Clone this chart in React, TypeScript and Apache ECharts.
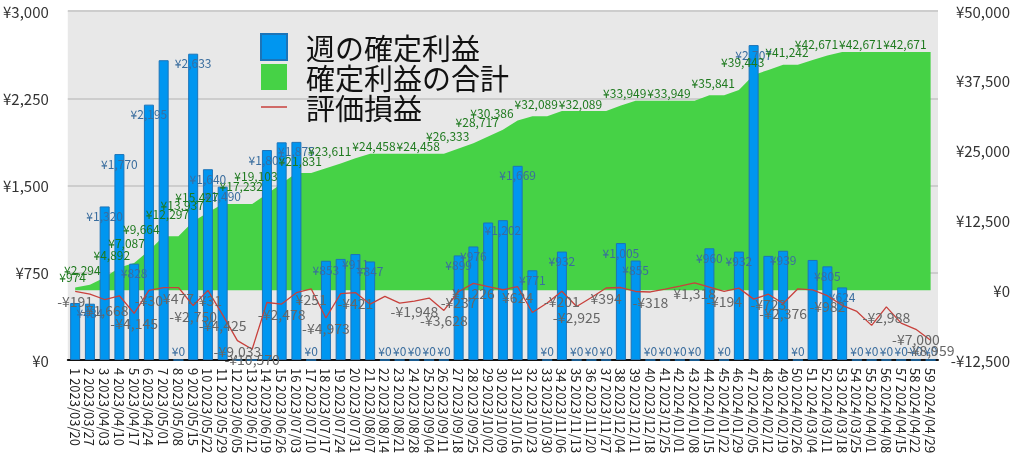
import React, { useEffect, useRef } from "react";
import * as echarts from "echarts";

const weekLabels = [
  "1 2023/03/20", "2 2023/03/27", "3 2023/04/03", "4 2023/04/10", "5 2023/04/17",
  "6 2023/04/24", "7 2023/05/01", "8 2023/05/08", "9 2023/05/15", "10 2023/05/22",
  "11 2023/05/29", "12 2023/06/05", "13 2023/06/12", "14 2023/06/19", "15 2023/06/26",
  "16 2023/07/03", "17 2023/07/10", "18 2023/07/17", "19 2023/07/24", "20 2023/07/31",
  "21 2023/08/07", "22 2023/08/14", "23 2023/08/21", "24 2023/08/28", "25 2023/09/04",
  "26 2023/09/11", "27 2023/09/18", "28 2023/09/25", "29 2023/10/02", "30 2023/10/09",
  "31 2023/10/16", "32 2023/10/23", "33 2023/10/30", "34 2023/11/06", "35 2023/11/13",
  "36 2023/11/20", "37 2023/11/27", "38 2023/12/04", "39 2023/12/11", "40 2023/12/18",
  "41 2023/12/25", "42 2024/01/01", "43 2024/01/08", "44 2024/01/15", "45 2024/01/22",
  "46 2024/01/29", "47 2024/02/05", "48 2024/02/12", "49 2024/02/19", "50 2024/02/26",
  "51 2024/03/04", "52 2024/03/11", "53 2024/03/18", "54 2024/03/25", "55 2024/04/01",
  "56 2024/04/08", "57 2024/04/15", "58 2024/04/22", "59 2024/04/29",
];

// 週の確定利益 (left axis)
const weeklyProfit = [
  490, 484, 1320, 1770, 828, 2195, 2577, 0, 2633, 1640,
  1490, 0, 0, 1805, 1871, 1875, 0, 853, 869, 911,
  847, 0, 0, 0, 0, 0, 899, 976, 1182, 1202,
  1669, 771, 0, 932, 0, 0, 0, 1005, 855, 0,
  0, 0, 0, 960, 0, 932, 2707, 895, 939, 0,
  860, 805, 624, 0, 0, 0, 0, 0, 0,
];

// 確定利益の合計 (right axis)
const cumulativeProfit = [
  490, 974, 2294, 4064, 4892, 7087, 9664, 9664, 12297, 13937,
  15427, 15427, 15427, 17232, 19103, 20978, 20978, 21831, 22700, 23611,
  24458, 24458, 24458, 24458, 24458, 24458, 25357, 26333, 27515, 28717,
  30386, 31157, 31157, 32089, 32089, 32089, 32089, 33094, 33949, 33949,
  33949, 33949, 33949, 34909, 34909, 35841, 38548, 39443, 40382, 40382,
  41242, 42047, 42671, 42671, 42671, 42671, 42671, 42671, 42671,
];

// 評価損益 (right axis)
const unrealized = [
  -191, -700, -1668, -1000, -4145, -30, 450, 477, -2750, -31,
  -4425, -9033, -10570, -2200, -2478, -450, 251, -4973, -600, -421,
  -2500, -1100, -2300, -1948, -1400, -3628, -237, 1226, 660, 80,
  624, -4000, -2300, -201, -2925, -1300, 394, 480, -230, -318,
  200, 750, 1318, 550, -194, 370, -1600, -723, -2376, 250,
  70, -982, -2700, -3800, -6300, -2988, -5900, -7000, -8959,
];

const leftTicks = { min: 0, max: 3000, interval: 750 };
const rightTicks = { min: -12500, max: 50000, interval: 12500 };

// weeks whose value labels are visible in the reference
const barLabelHidden = [1, 7, 12, 13, 15, 19, 29, 48, 51];
const cumLabelShown = [2, 3, 5, 6, 7, 9, 10, 11, 14, 15, 18, 20, 23, 26, 28, 30, 31, 34, 37, 40, 43, 46, 48, 51, 53, 56, 59];
const lineLabelShown = [1, 3, 5, 6, 8, 9, 10, 11, 12, 13, 15, 17, 18, 20, 24, 26, 27, 28, 31, 34, 35, 37, 40, 43, 45, 48, 49, 52, 56, 58, 59];

const yen = (v: number) => (v < 0 ? "-¥" : "¥") + Math.abs(v).toLocaleString("en-US");

const FONT = "'Noto Sans CJK JP', 'Noto Sans', sans-serif";
const GREEN = "#46d246";
const BLUE = "#0096f0";
const RED = "#c8413c";

export default function App() {
  const ref = useRef<HTMLDivElement>(null);
  useEffect(() => {
    if (!ref.current) return;
    const chart = echarts.init(ref.current, undefined, { renderer: "svg" });
    const option: any = {
      animation: false,
      textStyle: { fontFamily: FONT },
      grid: {
        left: 64, right: 86, top: 11, bottom: 112,
        show: true, backgroundColor: "#e8e8e8", borderWidth: 0,
      },
      legend: {
        orient: "vertical",
        left: 255,
        top: 27,
        itemWidth: 26,
        itemHeight: 26,
        itemGap: 0,
        textStyle: { fontSize: 29, lineHeight: 30, color: "#111", fontFamily: FONT, padding: [0, 0, 0, 14] },
        data: [
          { name: "週の確定利益", icon: "rect" },
          { name: "確定利益の合計", icon: "rect" },
          { name: "評価損益", icon: "path://M0,0L26,0L26,1.5L0,1.5Z" },
        ],
      },
      xAxis: {
        type: "category",
        data: weekLabels,
        axisLine: { lineStyle: { color: "#111", width: 2 } },
        axisTick: { show: false },
        axisLabel: { interval: 0, rotate: -90, fontSize: 13, color: "#222", margin: 8, fontFamily: FONT },
      },
      yAxis: [
        {
          type: "value",
          ...leftTicks,
          axisLabel: { formatter: yen, fontSize: 15, color: "#333", margin: 19, fontFamily: FONT },
          splitLine: { lineStyle: { color: "#cdcdcd", width: 2 } },
          axisLine: { show: false },
          axisTick: { show: false },
        },
        {
          type: "value",
          position: "right",
          ...rightTicks,
          axisLabel: { formatter: yen, fontSize: 15, color: "#333", margin: 72, align: "right", fontFamily: FONT },
          splitLine: { show: false },
          axisLine: { show: false },
          axisTick: { show: false },
        },
      ],
      series: [
        {
          name: "確定利益の合計",
          type: "line",
          yAxisIndex: 1,
          z: 1,
          symbol: "none",
          lineStyle: { width: 0, color: GREEN },
          itemStyle: { color: GREEN },
          areaStyle: { color: GREEN, opacity: 1 },
          data: cumulativeProfit,
        },
        {
          name: "週の確定利益",
          type: "bar",
          yAxisIndex: 0,
          z: 2,
          barWidth: 10,
          itemStyle: { color: BLUE, borderColor: "#1c74b8", borderWidth: 1 },
          label: {
            show: true,
            position: "insideTop",
            distance: 3,
            color: "#3a6d9e",
            fontSize: 12,
            fontFamily: FONT,
            formatter: (p: any) => yen(p.value),
          },
          data: weeklyProfit.map((v, i) => ({
            value: v,
            label: {
              show: !barLabelHidden.includes(i + 1),
              position: v === 0 ? "top" : "insideTop",
            },
          })),
        },
        {
          // value labels of 確定利益の合計, drawn above the bars
          name: "確定利益の合計",
          type: "line",
          yAxisIndex: 1,
          z: 3,
          symbol: "circle",
          symbolSize: 0,
          lineStyle: { width: 0, opacity: 0 },
          itemStyle: { color: GREEN },
          label: {
            show: false,
            position: "left",
            distance: 4,
            offset: [0, -8],
            color: "#1f7a1f",
            fontSize: 12,
            fontFamily: FONT,
            formatter: (p: any) => yen(p.value),
          },
          data: cumulativeProfit.map((v, i) => ({
            value: v,
            label: { show: cumLabelShown.includes(i + 1) },
          })),
        },
        {
          name: "評価損益",
          type: "line",
          yAxisIndex: 1,
          z: 4,
          symbol: "circle",
          symbolSize: 0,
          lineStyle: { width: 1.3, color: RED },
          itemStyle: { color: RED },
          label: {
            show: false,
            position: "bottom",
            distance: 3,
            color: "#666",
            fontSize: 14,
            fontFamily: FONT,
            formatter: (p: any) => yen(p.value),
          },
          data: unrealized.map((v, i) => ({
            value: v,
            label: { show: lineLabelShown.includes(i + 1) },
          })),
        },
      ],
    };
    chart.setOption(option);
    return () => chart.dispose();
  }, []);
  return (
    <div
      ref={ref}
      style={{ position: "fixed", left: 0, top: 0, width: 1024, height: 472 }}
    />
  );
}
